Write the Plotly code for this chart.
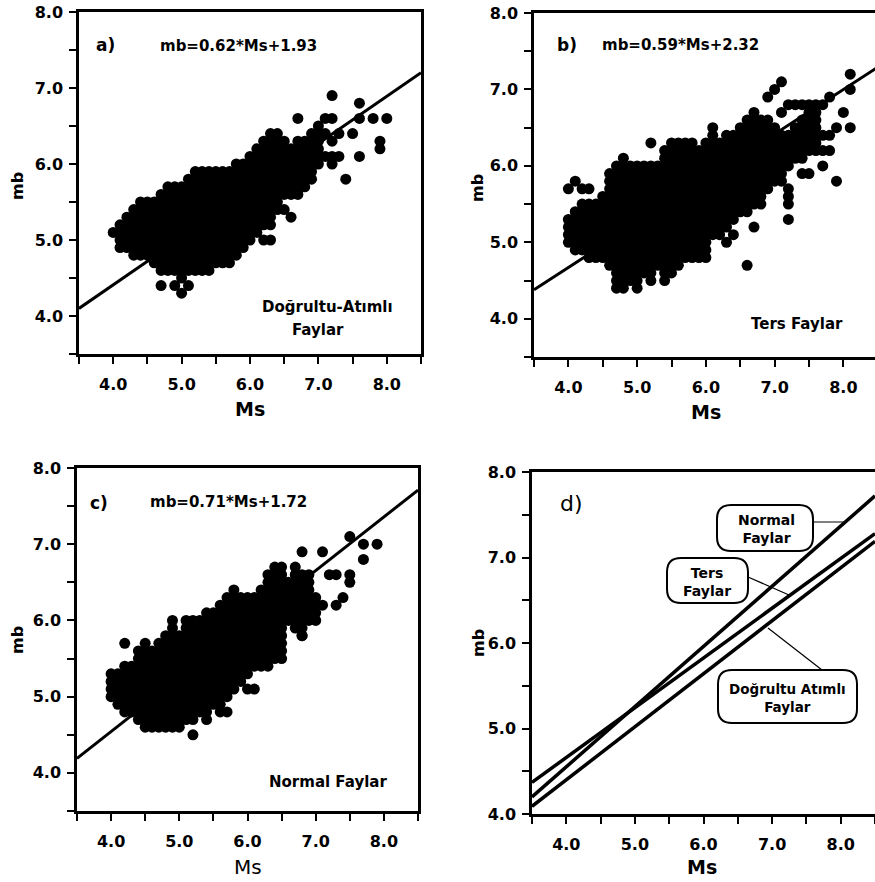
import plotly.graph_objects as go

W, H = 875, 882

# ---------------- DATA ----------------
# Regression line end points as drawn (Ms = 3.5 .. 8.5)
line_ms = [3.5, 8.5]
line_a_mb = [4.10, 7.20]   # mb=0.62*Ms+1.93
line_b_mb = [4.38, 7.29]   # mb=0.59*Ms+2.32
line_c_mb = [4.19, 7.71]   # mb=0.71*Ms+1.72
# panel d (comparison of the three lines)
d_normal_mb = [4.20, 7.72]
d_ters_mb = [4.37, 7.28]
d_dogrultu_mb = [4.09, 7.19]

# Panel a: dense cloud, per Ms column (lowest / highest mb read)
a_cols = [4.1, 4.2, 4.3, 4.4, 4.5, 4.6, 4.7, 4.8, 4.9, 5.0, 5.1, 5.2, 5.3, 5.4, 5.5,
          5.6, 5.7, 5.8, 5.9, 6.0, 6.1, 6.2, 6.3, 6.4, 6.5, 6.6, 6.7, 6.8, 6.9, 7.0]
a_low = [4.9, 4.9, 4.8, 4.8, 4.8, 4.7, 4.6, 4.6, 4.6, 4.6, 4.6, 4.6, 4.6, 4.6, 4.7,
         4.7, 4.7, 4.8, 4.9, 5.0, 5.1, 5.2, 5.3, 5.4, 5.6, 5.6, 5.6, 5.7, 5.8, 6.0]
a_high = [5.2, 5.3, 5.4, 5.5, 5.5, 5.5, 5.6, 5.7, 5.7, 5.7, 5.8, 5.9, 5.9, 5.9, 5.9,
          5.9, 5.9, 6.0, 6.0, 6.1, 6.2, 6.3, 6.4, 6.4, 6.3, 6.2, 6.3, 6.3, 6.4, 6.5]
a_out_ms = [4.0, 4.7, 4.9, 5.0, 5.0, 5.1, 6.2, 6.3, 6.3, 6.5, 6.6, 6.7, 7.1, 7.2, 7.2,
            7.1, 7.2, 7.3, 7.1, 7.2, 7.3, 7.2, 7.4, 7.5, 7.6, 7.6, 7.6, 7.8, 7.9, 7.9, 8.0]
a_out_mb = [5.1, 4.4, 4.4, 4.5, 4.3, 4.4, 5.0, 5.0, 5.2, 5.4, 5.3, 6.6, 6.6, 6.6, 6.9,
            6.4, 6.3, 6.4, 6.1, 6.1, 6.1, 6.0, 5.8, 6.4, 6.8, 6.6, 6.1, 6.6, 6.3, 6.2, 6.6]

# Panel b
b_cols = [4.0, 4.1, 4.2, 4.3, 4.4, 4.5, 4.6, 4.7, 4.8, 4.9, 5.0, 5.1, 5.2, 5.3, 5.4,
          5.5, 5.6, 5.7, 5.8, 5.9, 6.0, 6.1, 6.2, 6.3, 6.4, 6.5, 6.6, 6.7, 6.8, 6.9,
          7.0, 7.1, 7.2, 7.3, 7.4, 7.5, 7.6]
b_low = [5.0, 4.9, 4.9, 4.8, 4.8, 4.8, 4.7, 4.4, 4.4, 4.5, 4.5, 4.6, 4.5, 4.7, 4.5,
         4.6, 4.7, 4.8, 4.8, 4.8, 4.8, 5.1, 5.1, 5.2, 5.3, 5.4, 5.4, 5.5, 5.5, 5.7,
         5.8, 5.9, 6.0, 6.1, 6.1, 6.2, 6.2]
b_high = [5.3, 5.4, 5.5, 5.5, 5.5, 5.6, 5.9, 6.0, 6.1, 6.0, 6.0, 6.0, 6.0, 6.0, 6.2,
          6.3, 6.3, 6.3, 6.3, 6.2, 6.3, 6.5, 6.3, 6.4, 6.4, 6.5, 6.6, 6.7, 6.6, 6.6,
          6.5, 6.4, 6.4, 6.5, 6.6, 6.8, 6.8]
b_out_ms = [4.0, 4.1, 4.2, 4.3, 5.0, 5.2, 6.3, 6.4, 6.6, 6.7, 6.9, 7.0, 7.1, 7.1, 7.2,
            7.3, 7.4, 7.7, 7.8, 8.1, 8.1, 8.0, 7.9, 8.1, 7.7, 7.8, 7.7, 7.8, 7.7, 7.4,
            7.5, 7.9, 7.1, 7.2, 7.2, 7.2, 7.2]
b_out_mb = [5.7, 5.8, 5.7, 5.7, 4.4, 6.3, 5.0, 5.1, 4.7, 5.2, 6.9, 7.0, 7.1, 6.7, 6.8,
            6.8, 6.8, 6.8, 6.9, 7.2, 7.0, 6.7, 6.5, 6.5, 6.4, 6.4, 6.2, 6.2, 6.0, 5.9,
            5.9, 5.8, 5.8, 5.7, 5.6, 5.5, 5.3]

# Panel c
c_cols = [4.0, 4.1, 4.2, 4.3, 4.4, 4.5, 4.6, 4.7, 4.8, 4.9, 5.0, 5.1, 5.2, 5.3, 5.4,
          5.5, 5.6, 5.7, 5.8, 5.9, 6.0, 6.1, 6.2, 6.3, 6.4, 6.5, 6.6, 6.7, 6.8, 6.9, 7.0]
c_low = [5.0, 4.9, 4.8, 4.8, 4.7, 4.6, 4.6, 4.6, 4.6, 4.6, 4.6, 4.7, 4.7, 4.8, 4.8,
         4.9, 4.9, 5.0, 5.1, 5.2, 5.3, 5.4, 5.4, 5.4, 5.5, 5.5, 6.0, 5.9, 5.8, 6.0, 6.0]
c_high = [5.3, 5.3, 5.4, 5.4, 5.6, 5.6, 5.6, 5.7, 5.8, 5.9, 5.8, 6.0, 6.0, 6.0, 6.1,
          6.1, 6.2, 6.3, 6.4, 6.3, 6.3, 6.3, 6.4, 6.6, 6.7, 6.7, 6.5, 6.7, 6.6, 6.6, 6.3]
c_out_ms = [4.2, 4.5, 4.9, 5.2, 5.4, 5.6, 5.7, 6.0, 6.1, 6.8, 6.8, 7.1, 7.1, 7.2, 7.3,
            7.5, 7.5, 7.4, 7.3, 7.5, 7.7, 7.9, 7.7]
c_out_mb = [5.7, 5.7, 6.0, 4.5, 4.7, 4.8, 4.8, 5.1, 5.1, 6.9, 5.8, 6.9, 6.2, 6.6, 6.6,
            6.6, 6.5, 6.3, 6.2, 7.1, 7.0, 7.0, 6.8]

# Tick labels
x_tickvals = [3.5, 4.0, 4.5, 5.0, 5.5, 6.0, 6.5, 7.0, 7.5, 8.0, 8.5]
x_ticktext = ["", "4.0", "", "5.0", "", "6.0", "", "7.0", "", "8.0", ""]
y_tickvals = [3.5, 4.0, 4.5, 5.0, 5.5, 6.0, 6.5, 7.0, 7.5, 8.0]
y_ticktext = ["", "4.0", "", "5.0", "", "6.0", "", "7.0", "", "8.0"]
yd_tickvals = [4.0, 4.5, 5.0, 5.5, 6.0, 6.5, 7.0, 7.5, 8.0]
yd_ticktext = ["4.0", "", "5.0", "", "6.0", "", "7.0", "", "8.0"]

# ---------------- BUILD ----------------
def expand(cols, lows, highs, ex_x, ex_y):
    xs, ys = [], []
    for m, lo, hi in zip(cols, lows, highs):
        n = int(round((hi - lo) * 10)) + 1
        for k in range(n):
            xs.append(m)
            ys.append(round(lo + 0.1 * k, 1))
    return xs + list(ex_x), ys + list(ex_y)

FONT = "DejaVu Sans"
fig = go.Figure()

panels = [
    ("x", "y", a_cols, a_low, a_high, a_out_ms, a_out_mb, line_a_mb),
    ("x2", "y2", b_cols, b_low, b_high, b_out_ms, b_out_mb, line_b_mb),
    ("x3", "y3", c_cols, c_low, c_high, c_out_ms, c_out_mb, line_c_mb),
]
for xa, ya, cols, lo, hi, ox, oy, lmb in panels:
    xs, ys = expand(cols, lo, hi, ox, oy)
    fig.add_trace(go.Scatter(x=xs, y=ys, mode="markers", xaxis=xa, yaxis=ya,
                             marker=dict(color="black", size=11, line=dict(width=0)),
                             showlegend=False, hoverinfo="skip"))
    fig.add_trace(go.Scatter(x=line_ms, y=lmb, mode="lines", xaxis=xa, yaxis=ya,
                             line=dict(color="black", width=3), showlegend=False))

for lmb in (d_normal_mb, d_ters_mb, d_dogrultu_mb):
    fig.add_trace(go.Scatter(x=line_ms, y=lmb, mode="lines", xaxis="x4", yaxis="y4",
                             line=dict(color="black", width=3.5), showlegend=False))


def xax(domain, rng, anchor):
    return dict(domain=domain, range=rng, anchor=anchor, showline=True, linecolor="black",
                linewidth=2.5, mirror=True, ticks="outside", ticklen=7, tickwidth=2,
                tickcolor="black", tickvals=x_tickvals, ticktext=x_ticktext,
                tickfont=dict(family=FONT, size=16, color="black", weight="bold"),
                showgrid=False, zeroline=False, ticklabelstandoff=7, automargin=False)


def yax(domain, rng, anchor, tv, tt):
    return dict(domain=domain, range=rng, anchor=anchor, showline=True, linecolor="black",
                linewidth=2.5, mirror=True, ticks="outside", ticklen=7, tickwidth=2,
                tickcolor="black", tickvals=tv, ticktext=tt,
                tickfont=dict(family=FONT, size=16, color="black", weight="bold"),
                showgrid=False, zeroline=False, ticklabelstandoff=3, automargin=False)


def px2x(p):
    return p / W


def py2y(p):
    return 1 - p / H


fig.update_layout(
    width=W, height=H, margin=dict(l=0, r=0, t=0, b=0, autoexpand=False),
    paper_bgcolor="white", plot_bgcolor="white", showlegend=False,
    xaxis=xax([px2x(79), px2x(421)], [3.5, 8.5], "y"),
    yaxis=yax([py2y(354), py2y(12)], [3.5, 8.0], "x", y_tickvals, y_ticktext),
    xaxis2=xax([px2x(534), 1.0], [3.5, 8.46], "y2"),
    yaxis2=yax([py2y(357), py2y(13)], [3.5, 8.0], "x2", y_tickvals, y_ticktext),
    xaxis3=xax([px2x(77), px2x(418)], [3.5, 8.5], "y3"),
    yaxis3=yax([py2y(811), py2y(468)], [3.5, 8.0], "x3", y_tickvals, y_ticktext),
    xaxis4=xax([px2x(532), 1.0], [3.5, 8.5], "y4"),
    yaxis4=yax([py2y(814), py2y(472)], [4.0, 8.0], "x4", yd_tickvals, yd_ticktext),
)

annots = []


def txt(text, cx, cy, size, bold=True, angle=0):
    annots.append(dict(text=text, x=px2x(cx), y=py2y(cy), xref="paper", yref="paper",
                       showarrow=False, xanchor="center", yanchor="middle", textangle=angle,
                       font=dict(family=FONT, size=size, color="black",
                                 weight="bold" if bold else "normal")))


# axis titles
for cx, cy in [(17, 186), (478, 188), (17, 640), (478, 643)]:
    txt("mb", cx, cy, 16, True, -90)
txt("Ms", 250, 409, 19)
txt("Ms", 706, 412, 19)
txt("Ms", 248, 867, 20, False)
txt("Ms", 702, 867, 19)

# panel labels and equations
txt("a)", 105, 45, 17)
txt("mb=0.62*Ms+1.93", 238, 46, 15)
txt("Doğrultu-Atımlı", 327, 307, 15)
txt("Faylar", 318, 330, 15)
txt("b)", 567, 45, 17)
txt("mb=0.59*Ms+2.32", 680, 45, 15)
txt("Ters Faylar", 797, 324, 15)
txt("c)", 99, 503, 17)
txt("mb=0.71*Ms+1.72", 228, 502, 15)
txt("Normal Faylar", 328, 782, 15)
txt("d)", 571, 503, 22, False)

# panel d callouts
txt("Normal<br>Faylar", 766, 529, 14)
txt("Ters<br>Faylar", 707, 582, 14)
txt("Doğrultu Atımlı<br>Faylar", 787, 698, 13.5)

shapes = []


def rbox(x0p, y0p, x1p, y1p, r=14):
    x0, x1 = px2x(x0p), px2x(x1p)
    yt, yb = py2y(y0p), py2y(y1p)
    rx, ry = r / W, r / H
    path = (f"M {x0+rx},{yt} L {x1-rx},{yt} Q {x1},{yt} {x1},{yt-ry} "
            f"L {x1},{yb+ry} Q {x1},{yb} {x1-rx},{yb} L {x0+rx},{yb} "
            f"Q {x0},{yb} {x0},{yb+ry} L {x0},{yt-ry} Q {x0},{yt} {x0+rx},{yt} Z")
    shapes.append(dict(type="path", path=path, xref="paper", yref="paper",
                       line=dict(color="black", width=2), fillcolor="white", layer="above"))


def seg(xa, ya, xb, yb):
    shapes.append(dict(type="line", x0=px2x(xa), y0=py2y(ya), x1=px2x(xb), y1=py2y(yb),
                       xref="paper", yref="paper", line=dict(color="black", width=1.2)))


seg(813, 522, 846, 522)
seg(748, 577, 789, 595)
seg(822, 670, 768, 628)
rbox(717, 505, 813, 551)
rbox(667, 558, 748, 603)
rbox(718, 670, 857, 723)

fig.update_layout(annotations=annots, shapes=shapes)
fig.write_html("out.html")
